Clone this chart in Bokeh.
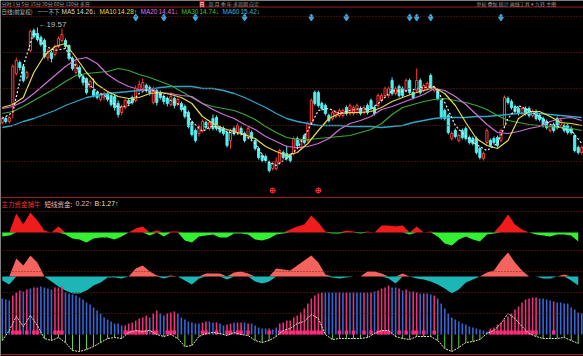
import numpy as np
from bokeh.plotting import figure
from bokeh.models import Range1d, Label, Span
from bokeh.embed import file_html
from bokeh.resources import INLINE

# ---------------- data (daily candles) ----------------
open_ = [14.82, 15.02, 14.87, 15.77, 17.27, 17.82, 17.62, 17.07, 18.42, 19.42,
         19.27, 19.07, 18.92, 18.07, 18.32, 18.22, 18.62, 18.92, 18.92, 18.67,
         18.02, 17.32, 17.57, 17.12, 17.02, 16.62, 16.42, 16.32, 15.97, 16.07,
         16.27, 16.17, 16.12, 15.77, 15.32, 15.57, 15.92, 16.07, 15.92, 16.42,
         16.52, 16.67, 16.57, 15.82, 16.42, 16.32, 16.12, 16.02, 15.72, 16.02,
         15.72, 15.77, 15.62, 15.32, 14.82, 14.42, 14.27, 14.42, 14.82, 14.52,
         15.02, 15.07, 14.57, 14.52, 14.32, 13.92, 14.52, 14.32, 14.52, 14.27,
         14.07, 14.32, 13.92, 13.52, 13.17, 13.12, 12.82, 12.52, 12.52, 12.82,
         13.32, 13.27, 13.17, 13.27, 14.02, 13.57, 14.17, 13.92, 14.82, 16.32,
         16.32, 15.77, 15.67, 15.17, 15.02, 15.12, 15.17, 15.17, 15.57, 15.27,
         15.27, 15.32, 15.52, 15.32, 15.67, 15.92, 15.57, 15.67, 15.92, 16.17,
         16.17, 16.92, 16.27, 16.62, 16.52, 16.42, 16.92, 16.32, 16.42, 16.92,
         16.42, 16.52, 17.17, 16.42, 16.42, 15.92, 15.42, 15.17, 14.02, 14.42,
         13.92, 14.42, 14.52, 14.07, 14.02, 14.02, 13.52, 13.02, 13.82, 13.92,
         14.02, 14.07, 13.92, 14.67, 16.02, 15.87, 15.62, 15.52, 15.32, 15.52,
         15.52, 15.17, 15.37, 15.17, 15.02, 14.87, 14.42, 14.72, 15.02, 14.67,
         14.67, 14.67, 14.52, 14.17, 13.57, 13.32]
close = [15.02, 14.87, 15.07, 17.62, 17.92, 17.57, 16.92, 17.32, 19.37, 19.12,
         18.97, 18.72, 18.12, 18.37, 18.02, 18.62, 19.02, 19.22, 18.62, 18.02,
         17.52, 17.72, 17.12, 16.82, 16.32, 16.87, 16.17, 16.07, 16.22, 16.27,
         15.97, 15.72, 15.57, 15.22, 15.62, 15.92, 15.77, 15.82, 16.52, 16.72,
         16.82, 16.42, 16.32, 16.52, 15.82, 16.07, 15.87, 15.77, 16.12, 15.67,
         15.97, 15.47, 15.12, 14.62, 14.22, 13.92, 14.62, 14.87, 14.57, 14.82,
         14.52, 14.52, 14.37, 14.27, 13.67, 14.42, 14.27, 14.67, 14.27, 13.92,
         14.52, 14.02, 13.52, 13.07, 12.92, 12.92, 12.42, 12.77, 12.87, 13.42,
         13.07, 13.02, 12.92, 14.02, 13.67, 13.92, 13.82, 14.77, 15.92, 15.77,
         15.67, 15.52, 15.27, 14.92, 15.32, 15.32, 15.42, 15.42, 15.27, 15.67,
         15.57, 15.67, 15.27, 15.57, 15.32, 15.52, 15.27, 16.17, 16.17, 16.52,
         16.52, 16.27, 16.52, 16.17, 16.17, 16.92, 16.32, 16.07, 16.92, 16.32,
         16.67, 16.77, 16.57, 16.57, 16.02, 15.07, 15.02, 14.32, 14.27, 14.12,
         14.17, 14.07, 14.02, 13.82, 13.77, 13.32, 13.07, 13.27, 14.42, 13.67,
         13.82, 13.67, 14.42, 16.07, 15.82, 15.57, 15.37, 15.27, 15.52, 15.27,
         15.17, 15.37, 15.02, 14.97, 14.67, 14.57, 14.67, 14.42, 14.57, 14.92,
         14.42, 14.32, 14.32, 13.42, 13.32, 13.57]
high = [15.12, 15.12, 15.17, 17.72, 18.07, 17.92, 17.72, 17.42, 19.47, 19.52,
        19.57, 19.17, 19.02, 18.52, 18.42, 18.72, 19.12, 19.52, 19.02, 18.72,
        18.12, 17.92, 17.67, 17.22, 17.07, 16.97, 17.02, 16.42, 16.32, 16.37,
        16.37, 16.32, 16.22, 15.92, 15.72, 16.02, 16.02, 16.17, 16.67, 16.92,
        17.02, 16.77, 16.67, 16.62, 16.52, 16.42, 16.22, 16.12, 16.32, 16.12,
        16.07, 15.87, 15.72, 15.42, 14.92, 14.52, 14.72, 14.97, 14.92, 14.92,
        15.22, 15.17, 14.67, 14.62, 14.42, 14.52, 14.62, 14.77, 14.62, 14.37,
        14.62, 14.42, 14.02, 13.62, 13.27, 13.22, 12.92, 12.87, 13.07, 13.52,
        13.42, 13.67, 13.27, 14.12, 14.12, 14.02, 14.27, 14.87, 16.02, 16.42,
        16.42, 15.87, 15.77, 15.27, 15.42, 15.42, 15.52, 15.52, 15.67, 15.77,
        15.67, 15.77, 15.62, 15.67, 15.77, 16.02, 15.67, 16.27, 16.27, 16.62,
        16.62, 17.07, 16.62, 16.72, 16.62, 17.02, 17.02, 16.42, 17.52, 17.02,
        16.77, 16.87, 17.27, 16.67, 16.52, 16.02, 15.52, 15.27, 14.37, 14.52,
        14.27, 14.52, 14.62, 14.17, 14.12, 14.12, 13.62, 13.37, 14.52, 14.02,
        14.12, 14.17, 14.52, 16.17, 16.12, 15.97, 15.72, 15.62, 15.62, 15.62,
        15.62, 15.47, 15.47, 15.27, 15.12, 14.97, 14.77, 14.82, 15.12, 15.02,
        14.77, 14.77, 14.62, 14.27, 13.67, 13.67]
low = [14.72, 14.77, 14.77, 15.02, 17.17, 17.42, 16.82, 16.97, 18.32, 19.02,
       18.87, 18.62, 18.02, 17.92, 17.82, 18.12, 18.52, 18.82, 18.52, 17.92,
       17.42, 17.22, 17.02, 16.67, 16.22, 16.52, 16.07, 15.97, 15.87, 15.92,
       15.87, 15.62, 15.42, 15.07, 15.17, 15.47, 15.67, 15.72, 15.82, 16.32,
       16.42, 16.32, 16.17, 15.72, 15.67, 15.97, 15.72, 15.62, 15.62, 15.52,
       15.62, 15.37, 15.02, 14.52, 14.12, 13.82, 14.12, 14.32, 14.47, 14.42,
       14.42, 14.42, 14.27, 14.17, 13.57, 13.52, 14.17, 14.22, 14.17, 13.82,
       13.97, 13.92, 13.42, 12.97, 12.82, 12.82, 12.32, 12.42, 12.42, 12.72,
       12.97, 12.92, 12.82, 13.17, 13.57, 13.47, 13.72, 13.82, 14.72, 15.67,
       15.57, 15.42, 15.17, 14.82, 14.92, 15.02, 15.07, 15.07, 15.17, 15.17,
       15.17, 15.22, 15.17, 15.22, 15.22, 15.42, 15.17, 15.57, 15.82, 16.07,
       16.07, 16.17, 16.17, 16.07, 16.07, 16.32, 16.22, 15.97, 16.32, 16.22,
       16.32, 16.42, 16.47, 16.32, 15.92, 14.97, 14.92, 14.22, 13.92, 14.02,
       13.82, 13.97, 13.92, 13.72, 13.67, 13.22, 12.97, 12.92, 13.72, 13.57,
       13.72, 13.57, 13.82, 14.57, 15.72, 15.47, 15.27, 15.17, 15.22, 15.17,
       15.07, 15.07, 14.92, 14.87, 14.57, 14.47, 14.32, 14.32, 14.47, 14.57,
       14.32, 14.22, 14.22, 13.32, 13.22, 13.22]

# moving averages, read every 3rd session
ma_idx = list(range(0, 166, 3))
ma5 = [15.02, 15.32, 17.67, 19.32, 18.67, 18.42, 18.52, 17.62, 16.82, 16.37,
       16.07, 15.57, 15.67, 16.27, 16.52, 16.22, 15.92, 15.67, 14.87, 14.37,
       14.67, 14.42, 14.27, 14.22, 13.77, 12.92, 12.67, 13.02, 13.52, 14.42,
       15.42, 15.52, 15.27, 15.42, 15.52, 15.47, 15.92, 16.42, 16.37, 16.47,
       16.57, 16.62, 15.82, 14.67, 14.12, 13.72, 13.42, 13.77, 15.02, 15.67,
       15.42, 15.12, 14.72, 14.57, 14.42, 13.77]
ma10 = [15.57, 15.72, 16.07, 17.32, 18.17, 18.62, 18.77, 18.07, 17.32, 16.72,
        16.37, 16.12, 16.02, 16.07, 16.27, 16.32, 16.22, 16.07, 15.77, 15.12,
        14.77, 14.52, 14.37, 14.22, 14.02, 13.62, 13.37, 13.17, 13.32, 13.77,
        14.42, 15.02, 15.27, 15.32, 15.32, 15.37, 15.57, 15.87, 16.07, 16.27,
        16.42, 16.57, 16.27, 15.67, 14.82, 14.02, 13.67, 13.52, 13.92, 15.02,
        15.37, 15.37, 15.12, 14.82, 14.77, 14.67]
ma20 = [15.52, 15.62, 15.87, 16.27, 16.72, 17.17, 17.62, 17.97, 18.07, 17.77,
        17.22, 16.87, 16.62, 16.47, 16.42, 16.32, 16.27, 16.17, 16.12, 15.77,
        15.47, 15.22, 15.02, 14.72, 14.47, 14.12, 13.87, 13.62, 13.57, 13.62,
        13.77, 14.02, 14.47, 14.77, 14.92, 15.12, 15.47, 15.62, 15.82, 16.02,
        16.22, 16.52, 16.42, 16.12, 15.72, 15.22, 14.72, 14.32, 14.27, 14.37,
        14.52, 14.62, 14.87, 15.02, 15.07, 14.92]
ma30 = [15.27, 15.37, 15.62, 15.92, 16.22, 16.52, 16.87, 17.17, 17.27, 17.32,
        17.37, 17.52, 17.42, 17.22, 17.07, 16.87, 16.67, 16.37, 16.07, 15.77,
        15.62, 15.52, 15.42, 15.22, 14.97, 14.62, 14.32, 14.07, 13.97, 13.97,
        14.02, 14.07, 14.12, 14.17, 14.32, 14.47, 14.77, 15.22, 15.57, 15.72,
        15.87, 15.97, 16.02, 15.92, 15.82, 15.67, 15.47, 15.17, 14.92, 14.82,
        14.72, 14.67, 14.62, 14.57, 14.52, 14.42]
ma60 = [14.57, 14.67, 14.87, 15.02, 15.22, 15.42, 15.67, 15.87, 16.07, 16.17,
        16.27, 16.32, 16.37, 16.42, 16.47, 16.57, 16.62, 16.62, 16.62, 16.52,
        16.52, 16.42, 16.27, 16.07, 15.82, 15.57, 15.27, 15.02, 14.87, 14.77,
        14.67, 14.67, 14.67, 14.62, 14.62, 14.62, 14.57, 14.62, 14.67, 14.82,
        14.92, 15.02, 15.07, 15.07, 15.07, 15.12, 15.12, 15.17, 15.22, 15.27,
        15.27, 15.27, 15.22, 15.17, 15.12, 15.07]

# signal markers (session indices)
signal_idx = [38, 46, 55, 69, 88, 98, 116, 118, 122, 142]
mark_idx = [77, 90]

# indicator panels, read every 2nd session
sub_idx = list(range(0, 165, 2))
main_funds = [-0.20, -0.15, 0.95, 0.40, 1.00, 0.60, 0.10, 0.00, 0.30, -0.10,
              -0.30, -0.35, -0.50, -0.30, -0.25, -0.25, -0.35, -0.20, 0.00, 0.20,
              0.30, -0.15, 0.10, -0.20, 0.05, 0.05, -0.40, -0.50, -0.20, -0.15,
              -0.10, -0.25, -0.25, -0.05, -0.05, -0.10, -0.35, -0.40, -0.30, -0.10,
              -0.05, 0.15, 0.30, 0.40, 0.85, 0.50, 0.05, -0.05, -0.05, 0.10,
              0.05, -0.05, 0.05, 0.00, 0.35, 0.35, 0.30, 0.35, -0.10, 0.30,
              0.00, 0.05, -0.20, -0.55, -0.65, -0.35, -0.20, -0.35, -0.45, -0.10,
              -0.05, 0.40, 0.90, 0.40, 0.15, 0.00, -0.10, -0.15, -0.20, -0.10,
              -0.10, -0.15, -0.45]
short_funds = [-0.20, -0.40, 0.90, 0.55, 1.05, 0.70, 0.00, -0.25, -0.50, -0.70,
               -0.85, -0.85, -0.70, -0.45, -0.30, -0.05, -0.05, -0.10, 0.00, 0.40,
               0.55, 0.25, 0.05, -0.10, 0.05, 0.00, -0.20, -0.40, -0.10, 0.15,
               0.15, 0.15, -0.15, 0.20, 0.25, 0.15, -0.25, -0.35, -0.25, 0.40,
               0.35, 0.30, 0.55, 0.80, 1.05, 0.70, 0.10, -0.05, -0.10, -0.05,
               0.00, 0.00, 0.25, 0.25, 0.15, -0.10, -0.35, 0.15, 0.00, -0.10,
               -0.15, -0.25, -0.40, -0.60, -0.85, -0.65, -0.30, -0.15, 0.00, 0.20,
               0.30, 0.80, 1.20, 0.70, 0.30, 0.00, 0.00, -0.10, -0.10, 0.00,
               0.10, -0.20, -0.45]
b_line = [-0.6, 0.4, 1.8, 0.8, 1.9, 0.9, -0.4, -0.6, -0.3, -0.8,
          -1.6, -1.7, -1.5, -1.2, -0.8, -0.4, -0.3, -0.4, 0.2, 0.4,
          0.3, 0.4, 0.0, -0.2, 0.0, -0.4, -1.2, -1.1, -0.2, 0.1,
          0.2, 0.1, -0.1, 0.2, 0.0, -0.1, -0.6, -0.8, -0.6, -0.2,
          0.4, 0.6, 1.1, 1.3, 2.0, 1.6, 0.0, -0.5, -0.4, -0.4,
          -0.4, -0.4, -0.3, 0.1, 0.4, 0.4, -0.2, -0.4, -0.5, -0.2,
          -0.2, -0.2, -0.6, -1.4, -1.7, -1.3, -0.8, -0.7, -0.5, 0.1,
          0.4, 1.1, 2.1, 1.6, 0.8, 0.1, -0.2, -0.4, -0.4, -0.4,
          -0.3, -0.6, -0.9]
# column indicator, one per session
trend_bars = [3.6, 3.5, 3.4, 3.9, 4.2, 4.4, 4.3, 4.5, 4.6, 4.7,
              4.7, 4.8, 4.7, 4.6, 4.5, 4.7, 4.7, 4.8, 4.2, 4.1,
              4.0, 3.9, 3.7, 3.5, 3.2, 3.0, 2.7, 2.4, 2.1, 1.7,
              1.5, 1.3, 1.1, 1.1, 0.9, 0.9, 1.1, 1.2, 1.4, 1.6,
              1.7, 1.9, 1.7, 2.1, 2.4, 2.1, 1.9, 2.1, 2.2, 2.3,
              2.1, 1.7, 1.5, 1.3, 1.2, 1.1, 1.1, 1.2, 1.3, 1.3,
              1.2, 1.2, 1.1, 0.9, 1.0, 1.1, 1.2, 1.2, 1.2, 1.2,
              1.1, 1.1, 0.9, 0.7, 0.6, 0.6, 0.6, 0.5, 0.7, 1.1,
              1.2, 1.4, 1.4, 1.7, 1.9, 2.2, 2.6, 3.1, 3.6, 3.9,
              4.1, 4.2, 4.2, 4.2, 4.2, 4.2, 4.2, 4.2, 4.2, 4.2,
              4.2, 4.2, 4.2, 4.2, 4.2, 4.2, 4.3, 4.4, 4.6, 4.7,
              4.9, 4.7, 4.7, 4.6, 4.4, 4.5, 4.3, 4.3, 4.2, 4.1,
              4.1, 4.1, 4.0, 3.9, 3.6, 3.1, 2.6, 2.1, 1.7, 1.5,
              1.3, 1.1, 1.0, 0.8, 0.7, 0.6, 0.5, 0.4, 0.3, 0.6,
              0.7, 1.0, 1.2, 1.5, 1.8, 2.1, 2.5, 2.8, 3.2, 3.5,
              3.6, 3.7, 3.7, 3.6, 3.6, 3.5, 3.4, 3.3, 3.2, 3.2,
              3.1, 3.1, 2.7, 2.5, 2.2, 2.1]
trend_flags = ("BBB" "PPP" "B" "P" "B" "PP" "BBBB" "PPP" "BBBBBBBBBBBBBBBBB" "PPPPPPP"
               "B" "PP" "BB" "PPP" "BBBBBBB" "PP" "BB" "P" "BB" "PP" "B" "PP" "B" "P"
               "BBBBB" "P" "BB" "PPPPPPPPPPPPP" "BBBB" "P" "B" "P" "B" "P" "BB" "P" "B"
               "P" "B" "PPPP" "BB" "P" "B" "P" "B" "PP" "B" "P" "BB" "P"
               "BBBBBBBBBBBBBBB" "PPPPPPPPPPPPPP" "BBBB" "P" "BBBBBBBB")

# legend texts: (left px, text, colour, cjk?)
legend_items = [(1, "日线(前复权)", "#bdbdbd", True), (37, "一一不下", "#bdbdbd", True),
                (61, "MA5", "#d8d8d8", False), (76, "14.26↓", "#d8d8d8", False),
                (99, "MA10", "#e6d84a", False), (117, "14.28↑", "#e6d84a", False),
                (140, "MA20", "#e070e0", False), (158, "14.41↓", "#e070e0", False),
                (181, "MA30", "#3cc03c", False), (199, "14.74↓", "#3cc03c", False),
                (222, "MA60", "#38b0d8", False), (240, "15.42↓", "#38b0d8", False)]
ind_items = [(1, "主力资金捕牛", "#e83030", True), (44, "短线资金:", "#e8b8b8", True),
             (75, "0.22↑", "#e8b8b8", False), (94, "B:", "#e8e0b0", False),
             (101, "1.27↑", "#e8e0b0", False)]
tab_items = [(1, "分时 1分 5分 15分 30分 60分 120分 多日"), (208, "周 月 季 年 多周期 自定"),
             (476, "复权 叠加 统计 画线工具 ▾ 九转 主图")]

# ---------------- layout helpers ----------------
W, H = 583, 356
P_TOP, P_PX = 20.92, 0.05


def py(row):
    return P_TOP - P_PX * row


o = np.array(open_); c = np.array(close); hi = np.array(high); lo = np.array(low)
N = len(c)
x = np.arange(N)
up = c >= o
dn = ~up

p = figure(width=W, height=H, x_range=Range1d(-0.5, N - 0.5), y_range=Range1d(py(H), P_TOP),
           output_backend="svg", toolbar_location=None, x_axis_location=None, y_axis_location=None,
           min_border=0, background_fill_color="black", border_fill_color="black",
           outline_line_color=None)
p.grid.visible = False
p.extra_y_ranges = {"f1": Range1d(-6.2, 11.6), "f2": Range1d(-4.0, 13.8), "f3": Range1d(-2.2, 33.4)}

# grid / separators
for r in [16, 52, 88, 125, 161, 211, 250, 271, 292, 313]:
    p.add_layout(Span(location=py(r), dimension="width", line_color="#801818",
                      line_dash="1 2", line_width=1))
for r in [6.5, 197, 354]:
    p.add_layout(Span(location=py(r), dimension="width", line_color="#a01c1c", line_width=1))

# candles
RED, CYAN = "#ff3c3c", "#54eef0"
p.segment(x[up], hi[up], x[up], lo[up], color=RED, line_width=1)
p.segment(x[dn], hi[dn], x[dn], lo[dn], color=CYAN, line_width=1)
p.vbar(x=x[up], width=0.6, top=c[up], bottom=o[up], fill_color="black", line_color=RED, line_width=1)
p.vbar(x=x[dn], width=0.6, top=o[dn], bottom=c[dn], fill_color=CYAN, line_color=CYAN, line_width=1)

# moving averages
p.line(ma_idx, ma60, color="#2ea6c8", line_width=1.3)
p.line(ma_idx, ma30, color="#38a838", line_width=1.2)
p.line(ma_idx, ma20, color="#d070d8", line_width=1.2)
p.line(ma_idx, ma10, color="#e6d84a", line_width=1.2)
p.line(ma_idx, ma5, color="#f0f0f0", line_width=1.2, line_dash="2 2")

# signal markers
p.scatter(signal_idx, [py(17)] * len(signal_idx), marker="diamond", size=7, color="#3ba6d8")
p.scatter(mark_idx, [py(190)] * len(mark_idx), marker="circle_cross", size=5,
          line_color="#ff3030", fill_color=None)

hi_i = int(np.argmax(hi))
p.add_layout(Label(x=hi_i, y=hi[hi_i], text="←19.57", x_offset=1, y_offset=3,
                   text_font="Liberation Sans", text_font_size="8px", text_color="#bdbdbd",
                   text_baseline="middle"))

# panel 1: main funds
mf = np.array(main_funds)
p.varea(x=sub_idx, y1=0, y2=np.maximum(mf, 0), fill_color="#f01c1c", y_range_name="f1")
p.varea(x=sub_idx, y1=0, y2=np.minimum(mf, 0), fill_color="#33f033", y_range_name="f1")

# panel 2: short funds
sf = np.array(short_funds)
p.varea(x=sub_idx, y1=0, y2=np.maximum(sf, 0), fill_color="#f4645c", y_range_name="f2")
p.varea(x=sub_idx, y1=0, y2=np.minimum(sf, 0), fill_color="#1cb6b6", y_range_name="f2")

# panel 3: columns + B line
tb = np.array(trend_bars)
pink = np.array([f == "P" for f in trend_flags])
p.vbar(x=x[~pink], width=0.45, top=tb[~pink], bottom=0, fill_color="#3468d8",
       line_color=None, y_range_name="f3")
p.vbar(x=x[pink], width=0.45, top=tb[pink], bottom=0, fill_color="#f0307e",
       line_color=None, y_range_name="f3")
p.vbar(x=x[pink], width=1.0, top=0.4, bottom=0, fill_color="#ff2a7a",
       line_color=None, y_range_name="f3")
bl = np.array(b_line)
p.segment(sub_idx, 0, sub_idx, np.minimum(bl, 0), color="#6ad84a", line_width=1,
          y_range_name="f3")
p.line(sub_idx, b_line, color="#e8e2b8", line_width=1, line_dash="2 1", y_range_name="f3")

# texts
CJK = "Noto Sans CJK SC"
LAT = "Liberation Sans"
for tx, t in tab_items:
    p.add_layout(Label(x=tx, y=py(3.2), x_units="screen", text=t, text_font=CJK,
                       text_font_size="5px", text_color="#9a9a9a", text_baseline="middle"))
p.add_layout(Label(x=199, y=py(3.2), x_units="screen", text="日", text_font=CJK,
                   text_font_size="5px", text_color="#ffffff", text_baseline="middle",
                   background_fill_color="#c01818"))
for tx, t, col, cjk in legend_items:
    p.add_layout(Label(x=tx, y=py(11), x_units="screen", text=t, text_font=CJK if cjk else LAT,
                       text_font_size="5.5px" if cjk else "6.5px", text_color=col,
                       text_baseline="middle"))
for tx, t, col, cjk in ind_items:
    p.add_layout(Label(x=tx, y=py(203), x_units="screen", text=t, text_font=CJK if cjk else LAT,
                       text_font_size="6.5px" if cjk else "7px", text_color=col,
                       text_baseline="middle"))

open("out.html", "w").write(file_html(p, INLINE))
